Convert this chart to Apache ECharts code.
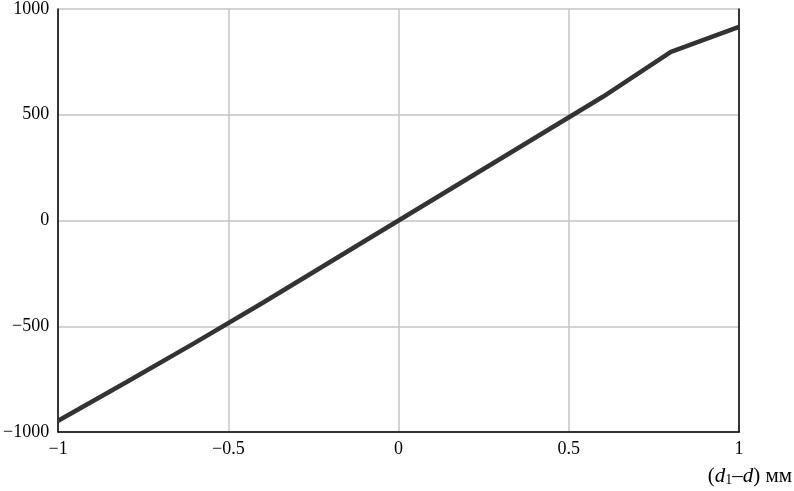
<!DOCTYPE html>
<html>
<head>
<meta charset="utf-8">
<script src="https://cdn.jsdelivr.net/npm/echarts@6/dist/echarts.min.js"></script>
<style>
  html, body { margin: 0; padding: 0; background: #fff; }
  #chart { width: 794px; height: 491px; }
</style>
</head>
<body>
<div id="chart"></div>
<script>
const xValues = [-1, -0.8, -0.6, -0.4, -0.2, 0, 0.2, 0.4, 0.6, 0.8, 1];
const yValues = [-947, -765, -580, -390, -195, 0, 195, 390, 585, 797, 916];

const font = "'Liberation Serif', 'Times New Roman', serif";
const minus = (v) => String(v).replace("-", "\u2212");

const chart = echarts.init(document.getElementById("chart"));

chart.setOption({
  animation: false,
  grid: { left: 57, right: 55, top: 5, bottom: 59 },
  xAxis: {
    type: "value",
    min: -1,
    max: 1,
    interval: 0.5,
    axisLine: { onZero: false, lineStyle: { color: "#000", width: 1.5 } },
    axisTick: { show: false },
    axisLabel: {
      color: "#000",
      fontFamily: font,
      fontSize: 18,
      margin: 8,
      formatter: minus,
    },
    splitLine: { lineStyle: { color: "#c4c4c4", width: 1.5 } },
  },
  yAxis: [
    {
      type: "value",
      min: -1000,
      max: 1000,
      interval: 500,
      axisLine: { show: true, onZero: false, lineStyle: { color: "#000", width: 1.5 } },
      axisTick: { show: false },
      axisLabel: {
        color: "#000",
        fontFamily: font,
        fontSize: 18,
        margin: 9,
        formatter: minus,
      },
      splitLine: { lineStyle: { color: "#c4c4c4", width: 1.5 } },
    },
    {
      type: "value",
      position: "right",
      min: -1000,
      max: 1000,
      axisLine: { show: true, onZero: false, lineStyle: { color: "#000", width: 1.5 } },
      axisTick: { show: false },
      axisLabel: { show: false },
      splitLine: { show: false },
    },
  ],
  graphic: [
    {
      type: "text",
      right: 2,
      top: 466,
      style: {
        text: "({i|d}{s|1}\u2013{i|d}) мм",
        fontFamily: font,
        fontSize: 21,
        fill: "#000",
        rich: {
          i: { fontFamily: font, fontSize: 21, fontStyle: "italic" },
          s: { fontFamily: font, fontSize: 14, verticalAlign: "bottom", padding: [7, 0, 0, 0] },
        },
      },
    },
  ],
  series: [
    {
      type: "line",
      data: xValues.map((x, i) => [x, yValues[i]]),
      showSymbol: false,
      lineStyle: { color: "#333", width: 4.5 },
    },
  ],
});
</script>
</body>
</html>
